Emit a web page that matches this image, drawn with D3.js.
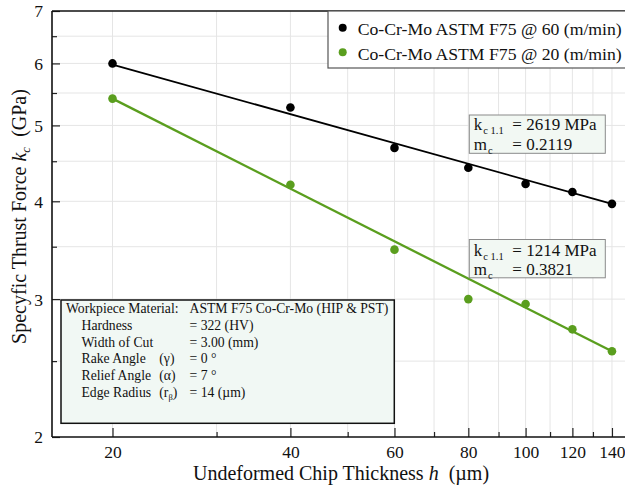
<!DOCTYPE html>
<html>
<head>
<meta charset="utf-8">
<script src="https://cdn.jsdelivr.net/npm/d3@7/dist/d3.min.js"></script>
<style>
  html, body { margin: 0; padding: 0; background: #fff; }
  svg { display: block; font-family: "Liberation Serif", "DejaVu Serif", serif; }
</style>
</head>
<body>
<svg id="chart" width="625" height="492"></svg>
<script>
// ---- data ----
const thickness = [20, 40, 60, 80, 100, 120, 140];            // h (µm)
const kc60 = [6.00, 5.27, 4.68, 4.415, 4.21, 4.11, 3.97];      // GPa @ 60 m/min
const kc20 = [5.41, 4.20, 3.47, 3.00, 2.957, 2.745, 2.574];    // GPa @ 20 m/min
const fitH = [20, 140];
const fit60 = [5.98, 3.97];
const fit20 = [5.41, 2.573];
const seriesNames = ["Co-Cr-Mo ASTM F75 @ 60 (m/min)", "Co-Cr-Mo ASTM F75 @ 20 (m/min)"];
const xMajorTicks = [20, 40, 60, 80, 100, 120, 140];
const xMinorTicks = [30, 50, 70, 90, 110, 130];
const yMajorTicks = [2, 3, 4, 5, 6, 7];
const yMinorTicks = [2.5, 3.5, 4.5, 5.5, 6.5];
const coef60 = ["2619 MPa", "0.2119"];
const coef20 = ["1214 MPa", "0.3821"];
const infoLabels = ["Workpiece Material:", "Hardness", "Width of Cut", "Rake Angle", "Relief Angle", "Edge Radius"];
const infoValues = ["ASTM F75 Co-Cr-Mo (HIP & PST)", "= 322 (HV)", "= 3.00 (mm)", "= 0 °", "= 7 °", "= 14 (µm)"];

// ---- layout ----
const plotL = 52, plotT = 11, plotB = 437;
const pxPerDecade = 591;
const xLo = 15.8, xHi = 150;
const plotR = plotL + pxPerDecade * Math.log10(xHi / xLo);
const black = "#000000", green = "#5a9e1e";

const svg = d3.select("#chart");
const x = d3.scaleLog().domain([xLo, xHi]).range([plotL, plotR]);
const y = d3.scaleLog().domain([2, 7]).range([plotB, plotT]);

// grid
const grid = svg.append("g").attr("stroke", "#e5e5e5").attr("stroke-width", 1);
grid.selectAll(".gx").data(xMajorTicks.concat(xMinorTicks)).join("line")
  .attr("x1", d => x(d)).attr("x2", d => x(d)).attr("y1", plotT).attr("y2", plotB);
grid.selectAll(".gy").data(yMajorTicks.concat(yMinorTicks).filter(d => d > 2 && d < 7)).join("line")
  .attr("x1", plotL).attr("x2", plotR).attr("y1", d => y(d)).attr("y2", d => y(d));

// axes
const tickFont = "17.5px";
const gx = svg.append("g").attr("transform", `translate(0,${plotB})`)
  .call(d3.axisBottom(x).tickValues(xMajorTicks).tickFormat(d3.format("d")).tickSize(-9).tickPadding(9));
const gxm = svg.append("g").attr("transform", `translate(0,${plotB})`)
  .call(d3.axisBottom(x).tickValues(xMinorTicks).tickFormat("").tickSize(-5));
const gy = svg.append("g").attr("transform", `translate(${plotL},0)`)
  .call(d3.axisLeft(y).tickValues(yMajorTicks).tickFormat(d3.format("d")).tickSize(-8).tickPadding(9));
const gym = svg.append("g").attr("transform", `translate(${plotL},0)`)
  .call(d3.axisLeft(y).tickValues(yMinorTicks).tickFormat("").tickSize(-5));
[gx, gxm, gy, gym].forEach(g => {
  g.select(".domain").remove();
  g.selectAll(".tick line").attr("stroke", "#222").attr("stroke-width", 1.2);
  g.selectAll("text").attr("font-family", "Liberation Serif").attr("font-size", tickFont).attr("fill", "#111");
});
gy.selectAll(".tick text").attr("dy", "0.34em");

// frame lines
const frame = svg.append("g").attr("stroke", "#111").attr("stroke-width", 1.6);
frame.append("line").attr("x1", plotL).attr("x2", plotL).attr("y1", plotT).attr("y2", plotB);
frame.append("line").attr("x1", plotL).attr("x2", plotR).attr("y1", plotB).attr("y2", plotB);
frame.append("line").attr("x1", plotL).attr("x2", plotR).attr("y1", plotT).attr("y2", plotT);

// fit lines
const line = d3.line().x(d => x(d[0])).y(d => y(d[1]));
svg.append("path").datum(fitH.map((h, i) => [h, fit60[i]]))
  .attr("d", line).attr("fill", "none").attr("stroke", black).attr("stroke-width", 1.8);
svg.append("path").datum(fitH.map((h, i) => [h, fit20[i]]))
  .attr("d", line).attr("fill", "none").attr("stroke", green).attr("stroke-width", 2.3);

// points
svg.append("g").selectAll("circle").data(thickness.map((h, i) => [h, kc60[i]])).join("circle")
  .attr("cx", d => x(d[0])).attr("cy", d => y(d[1])).attr("r", 4.3).attr("fill", black);
svg.append("g").selectAll("circle").data(thickness.map((h, i) => [h, kc20[i]])).join("circle")
  .attr("cx", d => x(d[0])).attr("cy", d => y(d[1])).attr("r", 4.3).attr("fill", green);

// legend
const lg = svg.append("g");
lg.append("rect").attr("x", 328).attr("y", 11).attr("width", 310).attr("height", 57)
  .attr("fill", "#fff").attr("stroke", "#555").attr("stroke-width", 1.2);
[black, green].forEach((c, i) => {
  lg.append("circle").attr("cx", 342.7).attr("cy", 27.7 + i * 24.6).attr("r", 4).attr("fill", c);
  lg.append("text").attr("x", 357.7).attr("y", 34.6 + i * 25).attr("font-size", "17.7px")
    .attr("fill", "#111").text(seriesNames[i]);
});

// coefficient boxes
function coefBox(bx, by, b1, b2, bh, vals) {
  const g = svg.append("g");
  g.append("rect").attr("x", bx).attr("y", by).attr("width", 136).attr("height", bh)
    .attr("fill", "#f2f8f3").attr("stroke", "#8a8a8a").attr("stroke-width", 1);
  const t1 = g.append("text").attr("x", bx + 4.5).attr("y", b1).attr("font-size", "17px").attr("fill", "#111");
  t1.append("tspan").text("k");
  t1.append("tspan").attr("font-size", "10.5px").attr("dy", 4).attr("dx", 1).text("c 1.1");
  g.append("text").attr("x", bx + 43).attr("y", b1).attr("font-size", "17px").attr("fill", "#111").text("= " + vals[0]);
  const t2 = g.append("text").attr("x", bx + 4.5).attr("y", b2).attr("font-size", "17px").attr("fill", "#111");
  t2.append("tspan").text("m");
  t2.append("tspan").attr("font-size", "10.5px").attr("dy", 4).attr("dx", 1).text("c");
  g.append("text").attr("x", bx + 43).attr("y", b2).attr("font-size", "17px").attr("fill", "#111").text("= " + vals[1]);
}
coefBox(469.3, 115, 130, 149.5, 38.3, coef60);
coefBox(469.3, 239.5, 255.8, 275, 38.3, coef20);

// info box
const ib = svg.append("g");
ib.append("rect").attr("x", 61).attr("y", 300).attr("width", 333.3).attr("height", 123.3)
  .attr("fill", "#f1f8f4").attr("stroke", "#111").attr("stroke-width", 1.5);
infoLabels.forEach((lab, i) => {
  const by = 313.4 + i * 16.67;
  ib.append("text").attr("x", i === 0 ? 66 : 81.5).attr("y", by).attr("font-size", "13.7px").attr("fill", "#111").text(lab);
  ib.append("text").attr("x", 189.5).attr("y", by).attr("font-size", "13.7px").attr("fill", "#111").text(infoValues[i]);
});
ib.append("text").attr("x", 159.3).attr("y", 313.4 + 3 * 16.67).attr("font-size", "13.7px").attr("fill", "#111").text("(γ)");
ib.append("text").attr("x", 159.3).attr("y", 313.4 + 4 * 16.67).attr("font-size", "13.7px").attr("fill", "#111").text("(α)");
const er = ib.append("text").attr("x", 159.3).attr("y", 313.4 + 5 * 16.67).attr("font-size", "13.7px").attr("fill", "#111");
er.append("tspan").text("(r");
er.append("tspan").attr("font-size", "8.5px").attr("dy", 3).text("β");
er.append("tspan").attr("dy", -3).text(")");

// axis titles
const xt = svg.append("text").attr("x", 341).attr("y", 479.5).attr("text-anchor", "middle")
  .attr("font-size", "20px").attr("fill", "#111");
xt.append("tspan").text("Undeformed Chip Thickness ");
xt.append("tspan").attr("font-style", "italic").text("h");
xt.append("tspan").text("\u00a0 (µm)");

const yt = svg.append("text").attr("transform", "translate(26,216.5) rotate(-90)").attr("text-anchor", "middle")
  .attr("font-size", "20px").attr("fill", "#111");
yt.append("tspan").text("Specyfic Thrust Force ");
yt.append("tspan").attr("font-style", "italic").text("k");
yt.append("tspan").attr("font-style", "italic").attr("font-size", "13px").attr("dy", 4).text("c");
yt.append("tspan").attr("dy", -4).text("\u00a0 (GPa)");
</script>
</body>
</html>
